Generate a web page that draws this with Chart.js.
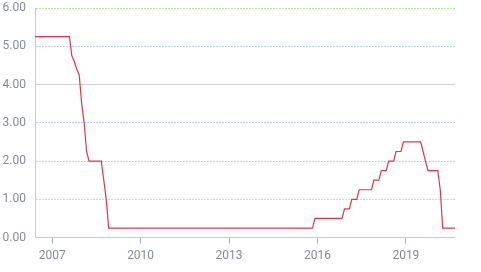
<!DOCTYPE html>
<html>
<head>
<meta charset="utf-8">
<script src="https://cdn.jsdelivr.net/npm/chart.js@4/dist/chart.umd.min.js"></script>
<style>
  html, body { margin: 0; padding: 0; background: #fff; }
  #wrap { width: 481px; height: 272px; position: relative; }
</style>
</head>
<body>
<div id="wrap"><canvas id="c"></canvas></div>
<script>
// monthly rate, Jun 2006 .. Sep 2020 (one value per month)
var firstMonth = { year: 2006, month: 6 };
var rates = [
  5.25, 5.25, 5.25, 5.25, 5.25, 5.25, 5.25,                               // 2006 Jun-Dec
  5.25, 5.25, 5.25, 5.25, 5.25, 5.25, 5.25, 5.25, 4.75, 4.6, 4.4, 4.25,   // 2007
  3.5, 3.0, 2.25, 2.0, 2.0, 2.0, 2.0, 2.0, 2.0, 1.5, 1.0, 0.25,           // 2008
  0.25, 0.25, 0.25, 0.25, 0.25, 0.25, 0.25, 0.25, 0.25, 0.25, 0.25, 0.25, // 2009
  0.25, 0.25, 0.25, 0.25, 0.25, 0.25, 0.25, 0.25, 0.25, 0.25, 0.25, 0.25, // 2010
  0.25, 0.25, 0.25, 0.25, 0.25, 0.25, 0.25, 0.25, 0.25, 0.25, 0.25, 0.25, // 2011
  0.25, 0.25, 0.25, 0.25, 0.25, 0.25, 0.25, 0.25, 0.25, 0.25, 0.25, 0.25, // 2012
  0.25, 0.25, 0.25, 0.25, 0.25, 0.25, 0.25, 0.25, 0.25, 0.25, 0.25, 0.25, // 2013
  0.25, 0.25, 0.25, 0.25, 0.25, 0.25, 0.25, 0.25, 0.25, 0.25, 0.25, 0.25, // 2014
  0.25, 0.25, 0.25, 0.25, 0.25, 0.25, 0.25, 0.25, 0.25, 0.25, 0.25, 0.5,  // 2015
  0.5, 0.5, 0.5, 0.5, 0.5, 0.5, 0.5, 0.5, 0.5, 0.5, 0.5, 0.75,            // 2016
  0.75, 0.75, 1.0, 1.0, 1.0, 1.25, 1.25, 1.25, 1.25, 1.25, 1.25, 1.5,     // 2017
  1.5, 1.5, 1.75, 1.75, 1.75, 2.0, 2.0, 2.0, 2.25, 2.25, 2.25, 2.5,       // 2018
  2.5, 2.5, 2.5, 2.5, 2.5, 2.5, 2.5, 2.25, 2.0, 1.75, 1.75, 1.75,         // 2019
  1.75, 1.75, 1.25, 0.25, 0.25, 0.25, 0.25, 0.25, 0.25                    // 2020 Jan-Sep
];
var tickYears = [2007, 2010, 2013, 2016, 2019];
var yTicks = [0, 1, 2, 3, 4, 5, 6];

// month labels "YYYY-MM" for the category axis
var months = [];
var y = firstMonth.year, m = firstMonth.month;
for (var i = 0; i < rates.length; i++) {
  months.push(y + "-" + (m < 10 ? "0" + m : m));
  m++;
  if (m > 12) { m = 1; y++; }
}

var isYearTick = function (idx) {
  var lbl = months[idx];
  if (!lbl) return false;
  return lbl.slice(5) === "01" && tickYears.indexOf(Number(lbl.slice(0, 4))) !== -1;
};

var canvas = document.getElementById("c");
var ctx = canvas.getContext("2d");

// dotted multi-coloured grid lines
var makePattern = function (cols) {
  var pc = document.createElement("canvas");
  pc.width = cols.length;
  pc.height = 1;
  var g = pc.getContext("2d");
  cols.forEach(function (col, k) { g.fillStyle = col; g.fillRect(k, 0, 1, 1); });
  return ctx.createPattern(pc, "repeat");
};
var T = "rgba(0,0,0,0)";
var gridStyle = {
  6: makePattern(["#b7e0a4", "#c9e7bb", T, "#e6c2d6", "#b7e0a4", T]),
  5: makePattern(["#b2c9ef", "#d9c4e4", T, "#b2c9ef", "#c8e0c0", T]),
  4: "#cbd3ca",
  3: makePattern(["#c0c6f2", "#e3c0e0", T, "#bcd2f0", "#c0c6f2", T]),
  2: makePattern(["#f0b8cf", "#b8e6ec", T, "#f0b8cf", "#c6e3ea", T]),
  1: makePattern(["#dbe69a", "#b9e6ea", T, "#e8c8d8", "#dbe69a", T]),
  0: "#c3cbe0"
};

var labelColor = "#868c96";
var font = { family: "Roboto", size: 12 };

new Chart(ctx, {
  type: "line",
  data: {
    labels: months,
    datasets: [{
      data: rates,
      borderColor: "#e3344f",
      borderWidth: 1.2,
      pointRadius: 0,
      tension: 0,
      fill: false
    }]
  },
  options: {
    responsive: true,
    maintainAspectRatio: false,
    animation: false,
    layout: { padding: { left: 2, right: 26, top: 0, bottom: 4 } },
    plugins: { legend: { display: false }, tooltip: { enabled: false } },
    scales: {
      x: {
        type: "category",
        grid: {
          drawOnChartArea: false,
          drawTicks: true,
          tickLength: 6,
          color: "#a3abbb",
          lineWidth: function (c) { return isYearTick(c.index) ? 1 : 0; }
        },
        border: { display: true, color: "#c3cbe0", width: 1 },
        ticks: {
          autoSkip: false,
          maxRotation: 0,
          padding: 5,
          color: labelColor,
          font: font,
          callback: function (v, idx) { return isYearTick(idx) ? months[idx].slice(0, 4) : ""; }
        }
      },
      y: {
        min: yTicks[0],
        max: yTicks[yTicks.length - 1],
        afterBuildTicks: function (scale) {
          scale.ticks = yTicks.map(function (v) { return { value: v }; });
        },
        afterFit: function (scale) {
          scale.width = 33;
          scale.paddingTop = 8;
        },
        grid: {
          drawTicks: false,
          color: function (c) { return c.tick ? gridStyle[c.tick.value] : "#c3cbe0"; },
          lineWidth: 1
        },
        border: { display: true, color: "#c3cbe0", width: 1 },
        ticks: {
          padding: 9,
          color: labelColor,
          font: font,
          callback: function (v) { return Number(v).toFixed(2); }
        }
      }
    }
  }
});
</script>
</body>
</html>
